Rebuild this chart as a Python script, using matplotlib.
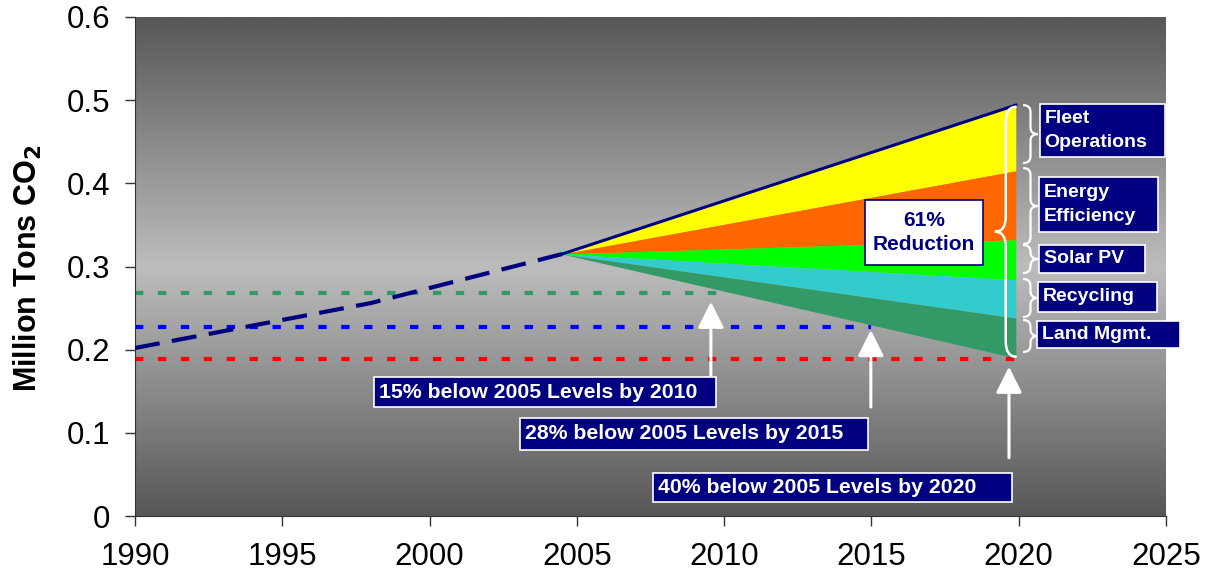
import numpy as np
import matplotlib
matplotlib.use("Agg")
import matplotlib.pyplot as plt
from matplotlib.colors import LinearSegmentedColormap
from matplotlib.patches import Rectangle, PathPatch
from matplotlib.path import Path

plt.rcParams['font.family'] = ['Liberation Sans', 'DejaVu Sans']

# historical emissions (dashed)
hist_years = [1990, 1998, 2004.5]
hist_co2 = [0.202, 0.256, 0.315]

# business-as-usual wedge and the reductions stacked beneath it
wedge_years = [2004.5, 2019.9]
bau_co2 = [0.315, 0.494]
reduction_names = ["Fleet\nOperations", "Energy\nEfficiency", "Solar PV", "Recycling", "Land Mgmt."]
fleet_ops = [0.0, 0.079]
energy_eff = [0.0, 0.083]
solar_pv = [0.0, 0.048]
recycling = [0.0, 0.046]
land_mgmt = [0.0, 0.048]
reduction_colors = ["#FFFF00", "#FF6600", "#00FF00", "#33CCCC", "#339966"]

# reduction targets
target_years = [2010, 2015, 2020]
target_levels = [0.268, 0.227, 0.189]
target_colors = ["#339966", "#0000FF", "#FF0000"]
target_labels = ["15% below 2005 Levels by 2010",
                 "28% below 2005 Levels by 2015",
                 "40% below 2005 Levels by 2020"]

x_ticks = [1990, 1995, 2000, 2005, 2010, 2015, 2020, 2025]
y_ticks = [0, 0.1, 0.2, 0.3, 0.4, 0.5, 0.6]
y_ticklabels = ["0", "0.1", "0.2", "0.3", "0.4", "0.5", "0.6"]

NAVY = "#000080"

fig = plt.figure(figsize=(12.17, 5.79), dpi=100)
ax = fig.add_axes([135 / 1217, 1 - 516 / 579, (1166 - 135) / 1217, (516 - 17) / 579])

# grey gradient background, dark at top and bottom
cmap = LinearSegmentedColormap.from_list("bg", ["#575757", "#bdbdbd", "#575757"])
grad = np.linspace(0, 1, 256).reshape(-1, 1)
ax.imshow(grad, extent=[1990, 2025, 0, 0.6], aspect='auto', cmap=cmap, origin='lower', zorder=0)

# target lines
for yr, lvl, col in zip(target_years, target_levels, target_colors):
    ax.plot([1990, yr], [lvl, lvl], color=col, lw=3, ls=(0, (2, 3.5)), zorder=2)

# historical dashed line
ax.plot(hist_years, hist_co2, color=NAVY, lw=3, ls=(0, (6, 3)), zorder=3)

# stacked wedge
top = np.array(bau_co2)
for vals, col in zip([fleet_ops, energy_eff, solar_pv, recycling, land_mgmt], reduction_colors):
    bottom = top - np.array(vals)
    ax.fill_between(wedge_years, bottom, top, color=col, lw=0, zorder=2)
    top = bottom
ax.plot(wedge_years, bau_co2, color=NAVY, lw=2.2, zorder=4)


def brace(x0, y0, y1, w, h, lw=1.6):
    """vertical curly brace, ends at x0, tip at x0+w (w<0 points left)"""
    ym = (y0 + y1) / 2
    xs = x0 + w / 2
    verts = [(x0, y1), (xs, y1), (xs, y1 - h),
             (xs, ym + h), (xs, ym), (x0 + w, ym),
             (xs, ym), (xs, ym - h),
             (xs, y0 + h), (xs, y0), (x0, y0)]
    codes = [Path.MOVETO, Path.CURVE3, Path.CURVE3,
             Path.LINETO, Path.CURVE3, Path.CURVE3,
             Path.CURVE3, Path.CURVE3,
             Path.LINETO, Path.CURVE3, Path.CURVE3]
    ax.add_patch(PathPatch(Path(verts, codes), fc='none', ec='white', lw=lw,
                           zorder=6, clip_on=False))


def box(x0, x1, y0, y1, text, fc=NAVY, ec='white', tc='white', ha='left', fs=14, ls=1.25):
    ax.add_patch(Rectangle((x0, y0), x1 - x0, y1 - y0, fc=fc, ec=ec, lw=1.2,
                           zorder=7, clip_on=False))
    tx = x0 + 0.16 if ha == 'left' else (x0 + x1) / 2
    ax.text(tx, (y0 + y1) / 2, text, ha=ha, va='center', color=tc, fontsize=fs,
            fontweight='bold', zorder=8, clip_on=False, linespacing=ls)


# big brace over the whole reduction
brace(2019.93, 0.1915, 0.4921, -0.74, 0.018, lw=1.8)
box(2014.78, 2018.79, 0.3018, 0.3800, "61%\nReduction", fc='white', ec=NAVY, tc=NAVY,
    ha='center', fs=15, ls=1.35)

# small braces and labels for each reduction
brace_spans = [(0.4244, 0.494), (0.327, 0.4184), (0.2922, 0.3258), (0.2393, 0.285), (0.1972, 0.2357)]
label_boxes = [(2020.72, 2024.97, 0.4317, 0.4954), (2020.69, 2024.73, 0.3415, 0.4076),
               (2020.69, 2024.29, 0.2922, 0.3259), (2020.65, 2024.69, 0.2453, 0.2814),
               (2020.62, 2025.47, 0.2020, 0.2345)]
for name, (b0, b1), (x0, x1, y0, y1) in zip(reduction_names, brace_spans, label_boxes):
    brace(2020.15, b0, b1, 0.5, 0.008)
    box(x0, x1, y0, y1, name, fs=14, ls=1.5)

# target arrows and labels
arrow_x = [2009.55, 2014.98, 2019.67]
arrow_tip = [0.2576, 0.2236, 0.1795]
arrow_base = [0.1695, 0.131, 0.070]
for x, t, b in zip(arrow_x, arrow_tip, arrow_base):
    ax.annotate('', xy=(x, t), xytext=(x, b), zorder=6,
                arrowprops=dict(arrowstyle='-|>,head_length=0.8,head_width=0.4',
                                color='white', lw=2.2, mutation_scale=20,
                                shrinkA=0, shrinkB=0))
target_boxes = [(1998.11, 2009.72, 0.1310, 0.1671), (2003.07, 2014.88, 0.0794, 0.1178),
                (2007.58, 2019.77, 0.0168, 0.0517)]
for text, (x0, x1, y0, y1) in zip(target_labels, target_boxes):
    box(x0, x1, y0, y1, text, fs=15.3)

ax.set_xlim(1990, 2025)
ax.set_ylim(0, 0.6)
ax.set_xticks(x_ticks)
ax.set_yticks(y_ticks)
ax.set_yticklabels(y_ticklabels)
ax.tick_params(axis='both', direction='out', length=7, width=1, color='#333333',
               labelsize=22.5)
ax.tick_params(axis='y', pad=11)
ax.tick_params(axis='x', pad=12)
for s in ['top', 'right']:
    ax.spines[s].set_visible(False)
for s in ['left', 'bottom']:
    ax.spines[s].set_color('#333333')
fig.text(28 / 1217, 1 - 268 / 579, r"Million Tons CO$_\mathbf{2}$", rotation=90,
         ha='center', va='center', fontsize=22, fontweight='bold')

fig.savefig("out.png", dpi=100)
